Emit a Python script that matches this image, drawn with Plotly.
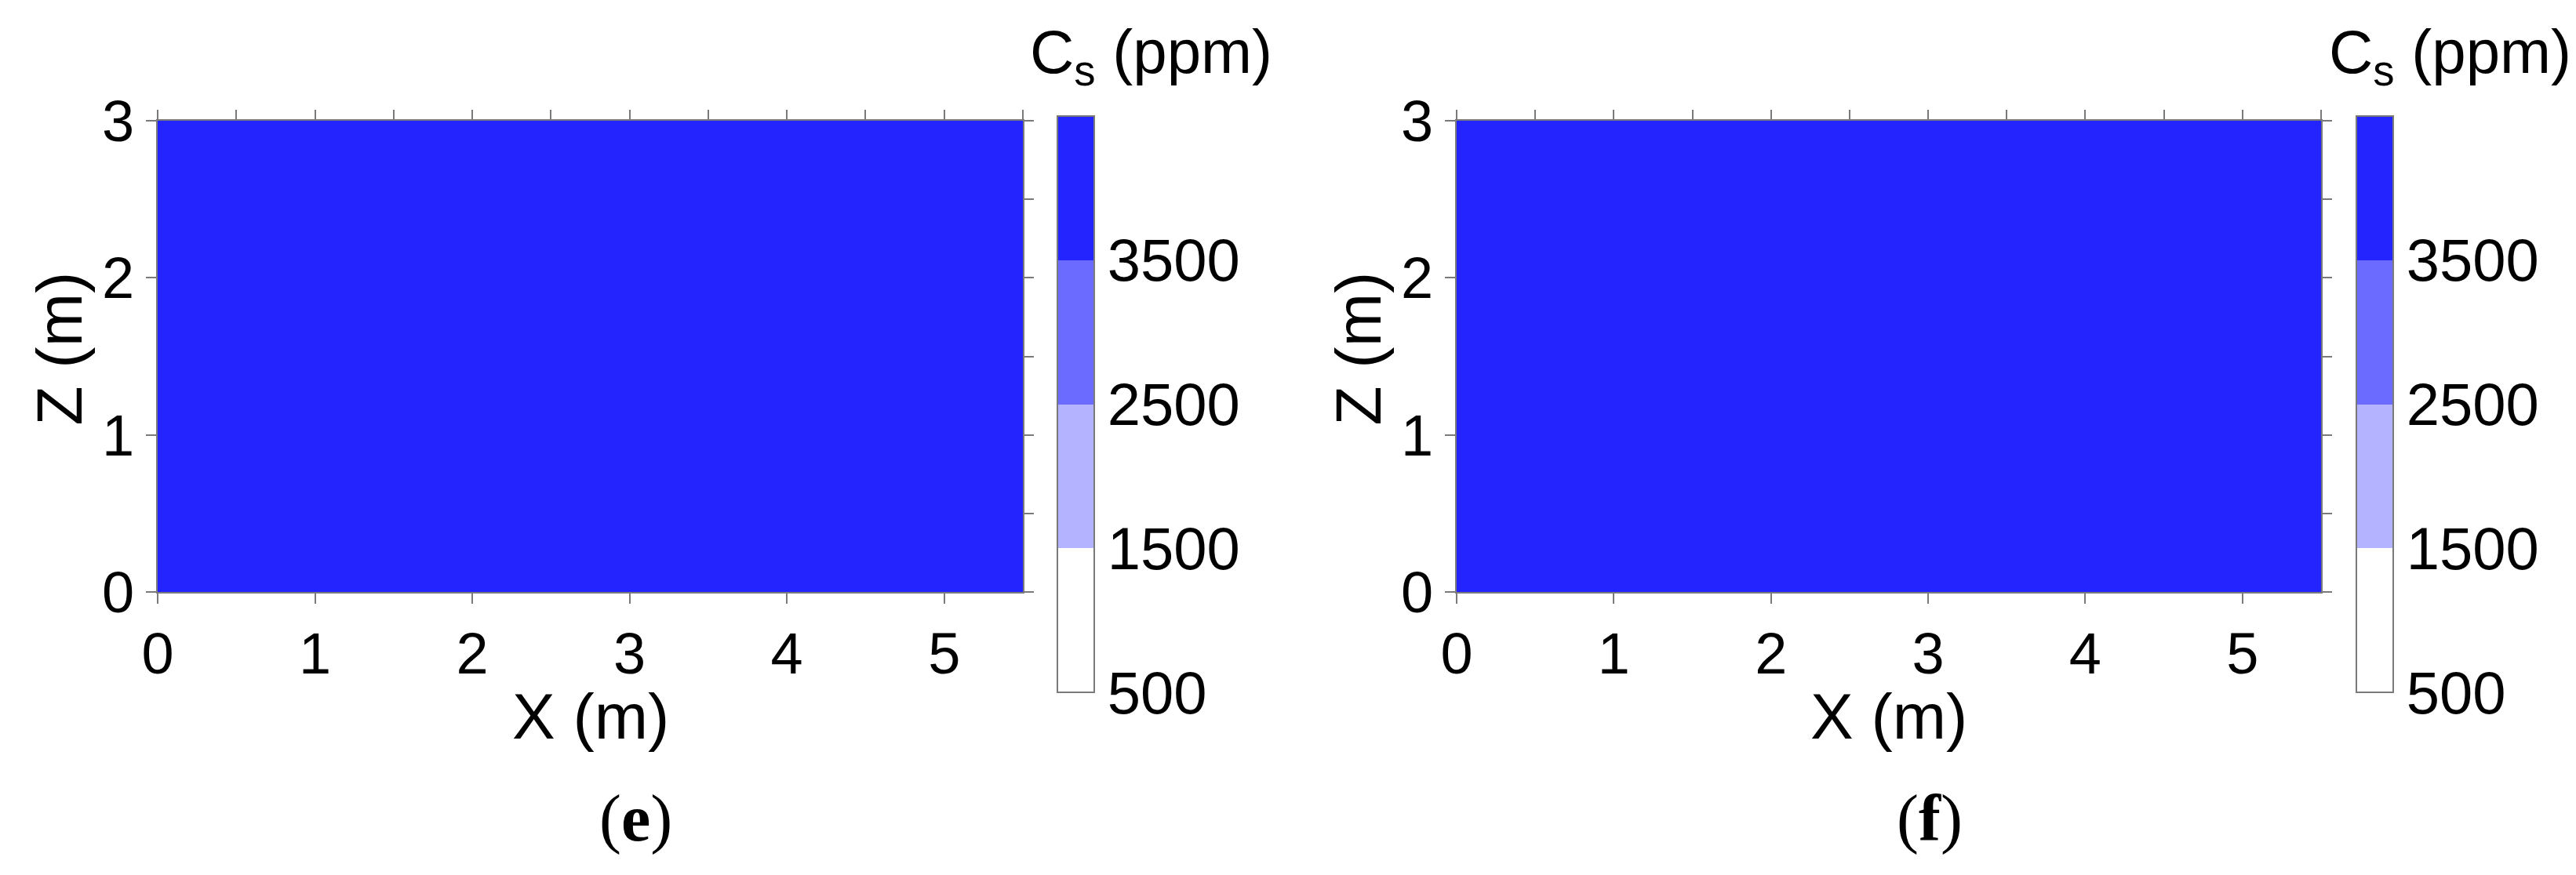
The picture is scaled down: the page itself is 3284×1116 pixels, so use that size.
import plotly.graph_objects as go

W, H = 3284, 1116

# grid cell edges (m) and solute concentration C_s (ppm) per cell
x_edges = [0, 1, 2, 3, 4, 5, 5.5]
z_edges = [0, 1, 2, 3]
cs_e = [[4000, 4000, 4000, 4000, 4000, 4000],
        [4000, 4000, 4000, 4000, 4000, 4000],
        [4000, 4000, 4000, 4000, 4000, 4000]]
cs_f = [[4000, 4000, 4000, 4000, 4000, 4000],
        [4000, 4000, 4000, 4000, 4000, 4000],
        [4000, 4000, 4000, 4000, 4000, 4000]]

levels = [500, 1500, 2500, 3500, 4500]
level_labels = ['500', '1500', '2500', '3500']
level_colors = ['#ffffff', '#b3b3ff', '#6b6bff', '#2424ff']
x_ticks = [0, 1, 2, 3, 4, 5]
z_ticks = [0, 1, 2, 3]
panel_names = ['(<b>e</b>)', '(<b>f</b>)']

FONT = 'Liberation Sans, Arial, sans-serif'
GREY = '#7a7a7a'
# edge colours between colour bands (1500, 2500, 3500)
SEP_COLORS = ['#8c8cb0', '#4646b4', '#20206e']

CB_TOP, CB_LEN, CB_W = 140, 735, 47


def px_x(v):
    return v / W


def px_y(v):
    return 1 - v / H


# discrete colour bands
nb = len(level_colors)
colorscale = []
for i, c in enumerate(level_colors):
    colorscale.append([i / nb, c])
    colorscale.append([(i + 1) / nb, c])

panels = [
    dict(z=cs_e, left=193, right=1296, cb_left=1340, label_x=802),
    dict(z=cs_f, left=1849, right=2951, cb_left=2996, label_x=2452),
]
top, bottom = 146, 747

fig = go.Figure()
layout = dict(width=W, height=H, margin=dict(l=0, r=0, t=0, b=0, autoexpand=False),
              paper_bgcolor='white', plot_bgcolor='white',
              font=dict(family=FONT, color='black'), showlegend=False)
annotations = []
shapes = []

for i, p in enumerate(panels):
    n = i + 1
    xa, ya = f'x{n}', f'y{n}'
    fig.add_trace(go.Heatmap(
        x=x_edges, y=z_edges, z=p['z'], xaxis=xa, yaxis=ya,
        zmin=levels[0], zmax=levels[-1], colorscale=colorscale, zsmooth=False,
        hoverinfo='skip',
        colorbar=dict(
            x=px_x(p['cb_left']), xanchor='left', xpad=0,
            y=px_y(CB_TOP), yanchor='top', ypad=0,
            thickness=CB_W, thicknessmode='pixels',
            len=CB_LEN, lenmode='pixels',
            outlinewidth=2, outlinecolor=GREY,
            tickvals=levels[:4], ticktext=level_labels,
            ticks='',
            tickfont=dict(size=76, family=FONT)),
    ))
    dom_x = [px_x(p['left']), px_x(p['right'])]
    dom_y = [px_y(bottom), px_y(top)]
    axis_common = dict(showgrid=False, zeroline=False, ticks='outside', ticklen=13,
                       tickwidth=2, tickcolor=GREY, automargin=False)
    layout[f'xaxis{n}'] = dict(domain=dom_x, anchor=ya, range=[0, 5.5], tickvals=x_ticks,
                               showline=True, linecolor=GREY, linewidth=2, mirror=True,
                               tickfont=dict(size=74), **axis_common)
    layout[f'yaxis{n}'] = dict(domain=dom_y, anchor=xa, range=[0, 3], tickvals=z_ticks,
                               showline=True, linecolor=GREY, linewidth=2, mirror=True,
                               tickfont=dict(size=74), **axis_common)
    # half-metre ticks on top and right edges
    layout[f'xaxis{n + 2}'] = dict(overlaying=xa, anchor=ya, side='top', range=[0, 5.5],
                                   tick0=0, dtick=0.5, showticklabels=False, **axis_common)
    layout[f'yaxis{n + 2}'] = dict(overlaying=ya, anchor=xa, side='right', range=[0, 3],
                                   tick0=0, dtick=0.5, showticklabels=False, **axis_common)

    # thin edges between the colour bands of the colour bar
    span = levels[-1] - levels[0]
    for lv, col in zip(levels[1:4], SEP_COLORS):
        yy = CB_TOP + (levels[-1] - lv) / span * CB_LEN
        shapes.append(dict(type='line', xref='paper', yref='paper',
                           x0=px_x(p['cb_left']), x1=px_x(p['cb_left'] + CB_W),
                           y0=px_y(yy), y1=px_y(yy), line=dict(color=col, width=2)))

    cx = (p['left'] + p['right']) / 2
    annotations.append(dict(text='X (m)', x=px_x(cx), y=px_y(905), xref='paper', yref='paper',
                            xanchor='center', yanchor='middle', showarrow=False,
                            font=dict(size=82, family=FONT)))
    annotations.append(dict(text='Z (m)', x=px_x(p['left'] - 126), y=px_y((top + bottom) / 2 - 10),
                            xref='paper', yref='paper', textangle=-90,
                            xanchor='center', yanchor='middle', showarrow=False,
                            font=dict(size=82, family=FONT)))
    annotations.append(dict(text='C<sub>s</sub> (ppm)', x=px_x(p['cb_left'] - 37), y=px_y(64),
                            xref='paper', yref='paper', xanchor='left', yanchor='middle',
                            showarrow=False, font=dict(size=78, family=FONT)))
    annotations.append(dict(text=panel_names[i], x=px_x(p['label_x']), y=px_y(1036),
                            xref='paper', yref='paper', xanchor='center', yanchor='middle',
                            showarrow=False, font=dict(size=84, family='Liberation Serif, Times New Roman, serif')))

layout['annotations'] = annotations
layout['shapes'] = shapes
fig.update_layout(**layout)

# invisible traces so the overlay axes are drawn
for n in (3, 4):
    base = n - 2
    fig.add_trace(go.Scatter(x=[None], y=[None], xaxis=f'x{n}', yaxis=f'y{base}',
                             hoverinfo='skip', showlegend=False))
    fig.add_trace(go.Scatter(x=[None], y=[None], xaxis=f'x{base}', yaxis=f'y{n}',
                             hoverinfo='skip', showlegend=False))

fig.write_html("out.html")
